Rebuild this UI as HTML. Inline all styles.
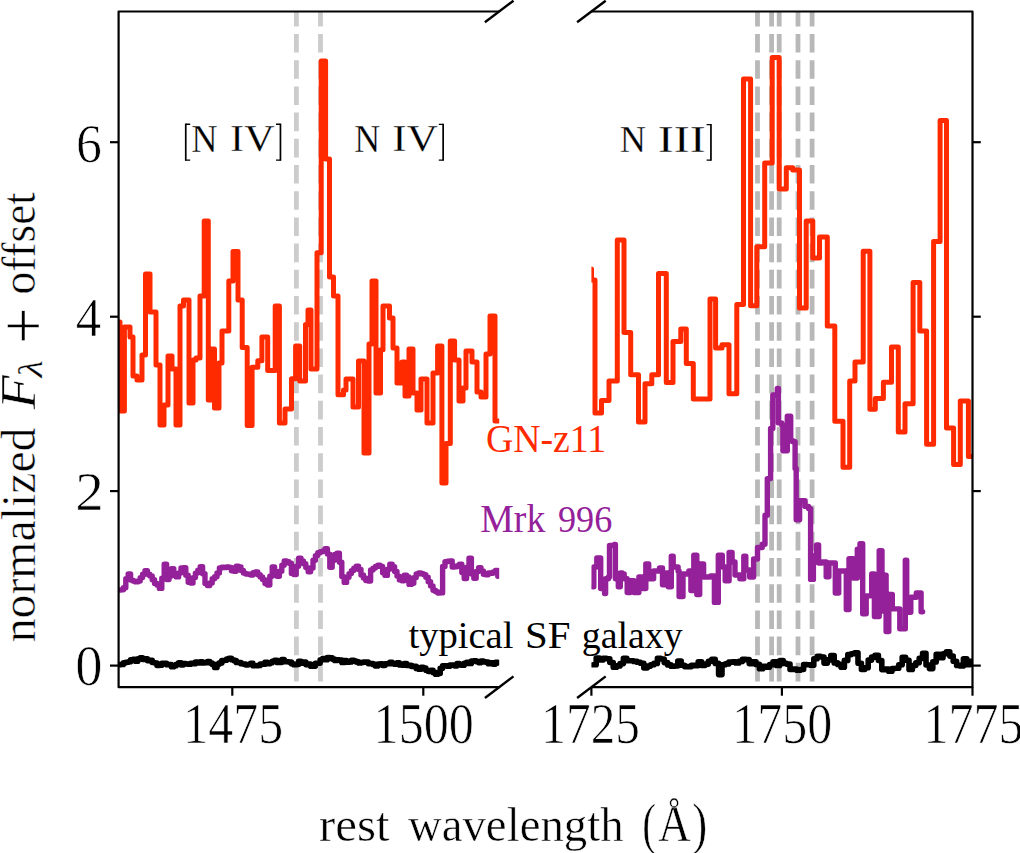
<!DOCTYPE html>
<html><head><meta charset="utf-8"><style>
html,body{margin:0;padding:0;background:#fff;width:1020px;height:853px;overflow:hidden;}
svg{display:block;font-family:"Liberation Serif", serif;}
</style></head><body>
<svg width="1020" height="853" viewBox="0 0 1020 853">
<rect width="1020" height="853" fill="#fff"/>
<defs><clipPath id="cl"><rect x="118.6" y="11.5" width="380.6" height="675.7"/></clipPath><clipPath id="cr"><rect x="591.4" y="11.5" width="381.1" height="675.7"/></clipPath></defs>
<g font-family="'Liberation Serif', serif">
<line x1="296.4" y1="11.5" x2="296.4" y2="687.2" stroke="#cccccc" stroke-width="4.8" stroke-dasharray="18.6 7.6" stroke-dashoffset="3.7"/>
<line x1="320.5" y1="11.5" x2="320.5" y2="687.2" stroke="#cccccc" stroke-width="4.8" stroke-dasharray="18.6 7.6" stroke-dashoffset="3.7"/>
<line x1="757.5" y1="11.5" x2="757.5" y2="687.2" stroke="#b8b8b8" stroke-width="4.8" stroke-dasharray="18.6 7.6" stroke-dashoffset="3.7"/>
<line x1="771.6" y1="11.5" x2="771.6" y2="687.2" stroke="#b8b8b8" stroke-width="4.8" stroke-dasharray="18.6 7.6" stroke-dashoffset="3.7"/>
<line x1="779.2" y1="11.5" x2="779.2" y2="687.2" stroke="#b8b8b8" stroke-width="4.8" stroke-dasharray="18.6 7.6" stroke-dashoffset="3.7"/>
<line x1="798.0" y1="11.5" x2="798.0" y2="687.2" stroke="#b8b8b8" stroke-width="4.8" stroke-dasharray="18.6 7.6" stroke-dashoffset="3.7"/>
<line x1="812.1" y1="11.5" x2="812.1" y2="687.2" stroke="#b8b8b8" stroke-width="4.8" stroke-dasharray="18.6 7.6" stroke-dashoffset="3.7"/>
<path clip-path="url(#cl)" d="M118.6,322.0H120.0V411.0H124.4V327.0H130.0V337.0H133.0V376.0H137.0V380.0H142.0V355.0H145.5V274.0H150.0V312.0H156.0V365.0H160.0V425.0H164.0V405.0H168.0V356.0H172.0V369.0H176.0V425.0H180.0V306.0H183.5V300.0H189.0V403.0H193.0V360.0H196.0V358.0H200.0V296.0H204.2V221.0H208.3V400.0H211.0V349.0H214.5V408.0H219.0V363.0H222.0V331.0H228.8V281.0H233.0V251.5H238.0V300.0H242.2V347.6H247.2V425.6H252.1V367.3H257.8V360.8H261.9V337.0H267.7V370.6H275.2V306.0H279.4V423.0H285.0V409.0H291.5V378.8H295.6V346.0H299.7V381.0H305.5V324.6H308.0V310.0H311.0V369.0H317.0V252.8H321.2V61.0H325.6V159.0H329.5V277.0H333.5V296.0H338.0V394.7H343.5V390.0H346.0V379.0H353.0V407.0H358.5V361.0H364.0V453.0H369.0V344.0H372.0V281.0H376.0V393.0H380.5V349.7H383.0V306.0H389.5V318.0H393.0V348.0H397.0V383.0H402.0V362.0H405.0V396.0H409.0V349.0H413.0V393.0H417.0V410.0H421.0V379.0H427.0V423.0H433.0V373.0H437.6V346.0H441.9V483.0H446.0V443.5H450.3V341.0H454.6V360.0H459.0V401.0H463.0V388.0H466.0V351.0H472.0V362.0H477.0V392.0H481.0V397.0H486.0V354.0H490.0V316.0H495.0V421.0H499.2" fill="none" stroke="#ff2a00" stroke-width="5.0" stroke-linejoin="round" stroke-linecap="round"/>
<path clip-path="url(#cr)" d="M591.5,269V280H595.0V413.0H601.5V400.4H609.0V381.0H617.3V240.0H624.0V332.4H630.7V374.8H638.5V422.0H645.0V383.7H651.8V374.8H658.5V273.4H666.3V382.6H673.0V341.4H680.8V329.0H686.3V363.6H693.3V399.0H710.0V299.0H715.6V348.0H722.0V344.7H729.0V393.7H736.8V304.6H743.5V79.0H750.6V305.7H756.8V246.7H764.7V163.0H772.2V57.6H779.2V188.9H786.3V167.8H792.8V170.0H799.5V308.0H806.2V221.0H812.8V258.0H819.5V236.9H827.3V326.0H834.8V421.3H843.0V467.2H849.7V380.9H855.0V362.0H863.2V251.3H869.9V409.2H875.3V398.4H883.4V382.2H891.5V347.1H898.3V432.1H905.0V403.8H913.1V282.4H919.8V331.0H926.6V444.3H933.6V241.5H940.1V120.6H946.5V428.0H953.6V464.5H960.3V401.0H968.4V456.4H972.5" fill="none" stroke="#ff2a00" stroke-width="5.0" stroke-linejoin="round" stroke-linecap="round"/>
<path clip-path="url(#cl)" d="M118.6,590.1H121.0V589.7H123.4V587.7H125.8V578.8H128.2V574.0H130.6V580.1H133.0V581.1H135.4V581.9H137.8V581.0H140.2V577.6H142.6V574.3H145.0V570.6H147.4V574.3H149.8V575.9H152.2V579.8H154.6V583.4H157.0V585.1H159.4V588.4H161.8V578.3H164.2V564.3H166.6V579.5H169.0V576.1H171.4V568.6H173.8V574.9H176.2V576.9H178.6V573.0H181.0V567.9H183.4V567.8H185.8V575.2H188.2V582.2H190.6V583.0H193.0V577.6H195.4V573.1H197.8V570.3H200.2V566.7H202.6V573.8H205.0V583.6H207.4V585.6H209.8V582.9H212.2V578.7H214.6V576.8H217.0V573.0H219.4V568.0H221.8V567.2H224.2V567.5H226.6V566.9H229.0V567.4H231.4V570.7H233.8V571.3H236.2V566.1H238.6V567.0H241.0V570.4H243.4V573.1H245.8V574.0H248.2V574.2H250.6V575.0H253.0V572.7H255.4V571.9H257.8V574.7H260.2V577.0H262.6V579.6H265.0V583.5H267.4V585.0H269.8V576.2H272.2V566.9H274.6V573.3H277.0V576.2H279.4V571.2H281.8V565.2H284.2V560.9H286.6V561.6H289.0V563.2H291.4V573.4H293.8V574.6H296.2V566.3H298.6V558.1H301.0V560.9H303.4V563.7H305.8V567.6H308.2V571.8H310.6V568.0H313.0V560.3H315.4V555.6H317.8V552.7H320.2V551.7H322.6V551.0H325.0V548.7H327.4V554.1H329.8V567.3H332.2V560.2H334.6V554.4H337.0V553.1H339.4V562.2H341.8V576.6H344.2V582.4H346.6V577.3H349.0V573.6H351.4V570.6H353.8V568.2H356.2V566.3H358.6V569.5H361.0V575.0H363.4V577.9H365.8V580.6H368.2V581.0H370.6V570.0H373.0V568.1H375.4V566.4H377.8V565.2H380.2V566.4H382.6V572.7H385.0V575.4H387.4V569.2H389.8V564.3H392.2V566.7H394.6V571.5H397.0V576.1H399.4V579.9H401.8V580.7H404.2V575.2H406.6V577.0H409.0V584.4H411.4V583.2H413.8V577.6H416.2V573.9H418.6V573.0H421.0V573.7H423.4V574.6H425.8V577.2H428.2V581.7H430.6V585.9H433.0V590.2H435.4V591.6H437.8V593.0H440.2V592.9H442.6V566.4H445.0V561.7H447.4V561.2H449.8V560.9H452.2V567.1H454.6V566.8H457.0V565.8H459.4V564.1H461.8V572.6H464.2V578.5H466.6V567.1H469.0V558.1H471.4V573.9H473.8V578.3H476.2V571.5H478.6V567.6H481.0V570.9H483.4V574.3H485.8V574.7H488.2V572.9H490.6V573.2H493.0V571.9H495.4V570.4H497.8V576.2H498.1" fill="none" stroke="#95219a" stroke-width="5.4" stroke-linejoin="round" stroke-linecap="round"/>
<path clip-path="url(#cr)" d="M592.8,586.7H593.8V567.0H596.8V558.0H599.7V558.0H600.7V588.6H604.6V593.5H605.6V578.8H608.5V577.0H609.5V545.5H614.4V544.5H615.4V578.8H618.3V586.7H620.3V573.0H622.3V574.0H624.2V578.8H627.2V592.5H630.1V580.8H634.0V592.5H638.9V577.0H642.8V588.6H645.8V564.0H648.7V578.8H653.6V571.0H659.5V568.0H662.5V584.7H666.4V573.0H668.3V586.7H671.3V556.3H673.2V567.0H678.1V571.0H679.1V596.5H683.0V574.0H688.9V571.0H690.9V590.6H693.8V555.3H696.8V594.5H699.7V564.0H703.6V577.0H710.5V576.0H714.4V602.4H718.3V555.3H722.3V567.0H725.2V580.8H729.1V552.4H732.1V562.0H735.0V575.0H739.9V578.8H743.8V556.3H745.8V570.0H749.7V577.0H753.6V559.0H757.5V547.5H762.2V544.3H765.0V515.3H767.3V478.6H770.6V428.5H772.8V395.0H777.3V388.4H778.4V422.9H781.7V425.0H782.9V450.7H786.2V450.7H787.3V416.2H789.5V416.2H790.7V440.7H792.9V441.8H795.1V468.5H796.2V519.8H798.5V519.8H799.6V500.8H805.1V506.4H808.5V508.6H810.6V579.4H813.4V556.0H816.6V545.0H818.6V563.0H822.0V562.0H826.2V576.7H828.9V563.0H835.3V593.0H838.7V571.0H842.2V571.0H846.3V609.6H849.0V558.8H853.1V578.0H857.3V549.2H860.0V543.7H862.7V613.7H866.2V595.9H871.7V574.0H874.4V616.5H879.2V550.6H882.0V611.0H884.7V575.3H886.1V631.6H888.8V594.5H892.3V608.9H899.8V628.8H905.3V560.2H906.7V612.3H910.8V597.2H916.3V593.0H921.1V611.7H922.6" fill="none" stroke="#95219a" stroke-width="5.4" stroke-linejoin="round" stroke-linecap="round"/>
<path clip-path="url(#cl)" d="M118.6,664.6H121.0V664.4H123.4V662.7H125.8V662.3H128.2V661.7H130.6V659.7H133.0V659.2H135.4V661.3H137.8V658.8H140.2V657.9H142.6V659.5H145.0V658.7H147.4V660.6H149.8V660.3H152.2V662.5H154.6V663.0H157.0V665.5H159.4V665.3H161.8V663.4H164.2V663.4H166.6V664.7H169.0V664.5H171.4V666.8H173.8V665.7H176.2V664.3H178.6V662.9H181.0V665.0H183.4V663.5H185.8V664.0H188.2V664.2H190.6V663.4H193.0V663.8H195.4V662.0H197.8V663.0H200.2V661.8H202.6V663.0H205.0V662.7H207.4V661.5H209.8V663.0H212.2V664.5H214.6V667.4H217.0V664.1H219.4V662.9H221.8V660.6H224.2V660.3H226.6V659.0H229.0V658.2H231.4V659.7H233.8V660.6H236.2V662.4H238.6V662.6H241.0V663.8H243.4V664.1H245.8V665.0H248.2V664.5H250.6V663.4H253.0V665.8H255.4V665.8H257.8V665.4H260.2V664.1H262.6V664.2H265.0V662.4H267.4V663.8H269.8V662.7H272.2V661.4H274.6V660.4H277.0V662.4H279.4V662.5H281.8V659.5H284.2V661.7H286.6V661.7H289.0V662.1H291.4V663.7H293.8V664.7H296.2V664.5H298.6V661.4H301.0V663.1H303.4V662.0H305.8V664.6H308.2V664.0H310.6V666.2H313.0V666.1H315.4V663.2H317.8V663.1H320.2V659.8H322.6V658.6H325.0V659.7H327.4V657.5H329.8V657.7H332.2V659.1H334.6V660.4H337.0V659.8H339.4V660.1H341.8V662.4H344.2V660.5H346.6V662.2H349.0V661.9H351.4V660.2H353.8V661.1H356.2V661.9H358.6V662.9H361.0V662.5H363.4V662.1H365.8V662.0H368.2V663.6H370.6V663.5H373.0V664.4H375.4V665.9H377.8V664.1H380.2V663.8H382.6V665.5H385.0V663.7H387.4V663.6H389.8V662.2H392.2V663.6H394.6V664.3H397.0V662.9H399.4V664.9H401.8V665.1H404.2V663.6H406.6V665.5H409.0V665.2H411.4V666.5H413.8V666.4H416.2V668.4H418.6V669.2H421.0V667.4H423.4V668.0H425.8V670.2H428.2V671.5H430.6V670.3H433.0V672.4H435.4V674.3H437.8V673.5H440.2V668.2H442.6V665.7H445.0V665.7H447.4V666.2H449.8V665.1H452.2V665.1H454.6V666.0H457.0V663.6H459.4V664.9H461.8V665.2H464.2V663.4H466.6V662.4H469.0V663.4H471.4V661.0H473.8V660.7H476.2V661.6H478.6V662.6H481.0V661.0H483.4V661.9H485.8V662.1H488.2V663.8H490.6V662.7H493.0V664.1H495.4V662.2H497.8V662.9H498.0" fill="none" stroke="#000" stroke-width="5.6" stroke-linejoin="round" stroke-linecap="round"/>
<path clip-path="url(#cr)" d="M592.8,664.8H596.2V658.1H599.6V659.9H603.0V658.4H606.4V658.8H609.8V662.5H613.2V667.3H616.6V665.9H620.0V663.6H623.4V658.3H626.8V660.8H630.2V660.7H633.6V661.4H637.0V662.2H640.4V663.3H643.8V668.0H647.2V666.1H650.6V664.7H654.0V663.4H657.4V658.4H660.8V659.0H664.2V662.6H667.6V664.9H671.0V666.3H674.4V666.0H677.8V661.1H681.2V665.2H684.6V666.6H688.0V666.6H691.4V665.3H694.8V665.6H698.2V661.9H701.6V665.5H705.0V664.1H708.4V661.3H711.8V659.4H715.2V663.4H718.6V674.6H722.0V664.8H725.4V663.9H728.8V662.1H732.2V661.8H735.6V662.9H739.0V661.4H742.4V659.2H745.8V659.6H749.2V663.6H752.6V661.7H756.0V664.4H759.4V668.8H762.8V666.4H766.2V667.1H769.6V664.6H773.0V661.7H776.4V665.4H779.8V660.6H783.2V663.4H786.6V664.1H790.0V669.5H793.4V669.1H796.8V670.2H800.2V669.5H803.6V664.5H807.0V664.8H810.4V665.3H813.8V658.7H817.2V656.2H820.6V657.0H824.0V663.1H827.4V659.9H830.8V655.5H834.2V662.9H837.6V664.4H841.0V667.3H844.4V660.4H847.8V654.6H851.2V653.8H854.6V652.7H858.0V663.3H861.4V669.5H864.8V667.7H868.2V660.1H871.6V657.1H875.0V655.3H878.4V660.5H881.8V669.6H885.2V669.0H888.6V671.2H892.0V668.5H895.4V668.3H898.8V664.8H902.2V657.4H905.6V660.3H909.0V669.4H912.4V665.5H915.8V662.7H919.2V658.4H922.6V653.4H926.0V665.0H929.4V668.6H932.8V661.9H936.2V654.4H939.6V657.8H943.0V653.8H946.4V651.8H949.8V656.1H953.2V661.3H956.6V665.4H960.0V665.9H963.4V658.8H966.8V664.6H970.2V661.3H972.5" fill="none" stroke="#000" stroke-width="5.6" stroke-linejoin="round" stroke-linecap="round"/>
<path d="M499.2,11.5H118.6V687.2H499.2" stroke="#000" stroke-width="2.2" fill="none" stroke-linejoin="round"/>
<path d="M591.4,11.5H972.5V687.2H591.4" stroke="#000" stroke-width="2.2" fill="none" stroke-linejoin="round"/>
<line x1="484.9" y1="22.3" x2="513.5" y2="0.7" stroke="#000" stroke-width="2.4"/>
<line x1="484.9" y1="698.0" x2="513.5" y2="676.4" stroke="#000" stroke-width="2.4"/>
<line x1="577.1" y1="22.3" x2="605.7" y2="0.7" stroke="#000" stroke-width="2.4"/>
<line x1="577.1" y1="698.0" x2="605.7" y2="676.4" stroke="#000" stroke-width="2.4"/>
<line x1="110" y1="665.6" x2="118.6" y2="665.6" stroke="#000" stroke-width="2.2"/>
<line x1="972.5" y1="665.6" x2="980.8" y2="665.6" stroke="#000" stroke-width="2.2"/>
<line x1="110" y1="491.1" x2="118.6" y2="491.1" stroke="#000" stroke-width="2.2"/>
<line x1="972.5" y1="491.1" x2="980.8" y2="491.1" stroke="#000" stroke-width="2.2"/>
<line x1="110" y1="316.7" x2="118.6" y2="316.7" stroke="#000" stroke-width="2.2"/>
<line x1="972.5" y1="316.7" x2="980.8" y2="316.7" stroke="#000" stroke-width="2.2"/>
<line x1="110" y1="142.2" x2="118.6" y2="142.2" stroke="#000" stroke-width="2.2"/>
<line x1="972.5" y1="142.2" x2="980.8" y2="142.2" stroke="#000" stroke-width="2.2"/>
<line x1="232.3" y1="687.2" x2="232.3" y2="695.7" stroke="#000" stroke-width="2.2"/>
<line x1="423.3" y1="687.2" x2="423.3" y2="695.7" stroke="#000" stroke-width="2.2"/>
<line x1="591.4" y1="687.2" x2="591.4" y2="695.7" stroke="#000" stroke-width="2.2"/>
<line x1="781.9" y1="687.2" x2="781.9" y2="695.7" stroke="#000" stroke-width="2.2"/>
<line x1="972.5" y1="687.2" x2="972.5" y2="695.7" stroke="#000" stroke-width="2.2"/>
<text transform="translate(75.32,685.1) scale(1.0905,1.1424)" font-size="50" fill="#000" stroke="#fff" stroke-width="0.627" stroke-linejoin="round">0</text>
<text transform="translate(75.21,509.9) scale(1.145,1.103)" font-size="50" fill="#000" stroke="#fff" stroke-width="0.623" stroke-linejoin="round">2</text>
<text transform="translate(75.78,335.5) scale(1.0174,1.1061)" font-size="50" fill="#000" stroke="#fff" stroke-width="0.659" stroke-linejoin="round">4</text>
<text transform="translate(75.92,162.1) scale(1.0381,1.1182)" font-size="50" fill="#000" stroke="#fff" stroke-width="0.649" stroke-linejoin="round">6</text>
<text transform="translate(183.2,743.4) scale(1.0,1.1242)" font-size="50" fill="#000" stroke="#fff" stroke-width="0.659" stroke-linejoin="round">1475</text>
<text transform="translate(373.59,743.4) scale(1.0021,1.1242)" font-size="50" fill="#000" stroke="#fff" stroke-width="0.658" stroke-linejoin="round">1500</text>
<text transform="translate(541.36,743.4) scale(0.9862,1.1242)" font-size="50" fill="#000" stroke="#fff" stroke-width="0.663" stroke-linejoin="round">1725</text>
<text transform="translate(732.2,743.4) scale(1.0011,1.1242)" font-size="50" fill="#000" stroke="#fff" stroke-width="0.659" stroke-linejoin="round">1750</text>
<text transform="translate(923.4,743.4) scale(1.0011,1.1242)" font-size="50" fill="#000" stroke="#fff" stroke-width="0.659" stroke-linejoin="round">1775</text>
<text transform="translate(191.17,151.7) scale(0.7294,0.7848)" font-size="50" fill="#000" stroke="#fff" stroke-width="0.396" stroke-linejoin="round">N</text>
<text transform="translate(230.12,150.94) scale(0.842,0.7618)" font-size="50" fill="#000" stroke="#fff" stroke-width="0.374" stroke-linejoin="round">IV</text>
<text transform="translate(354.18,151.8) scale(0.7206,0.7879)" font-size="50" fill="#000" stroke="#fff" stroke-width="0.398" stroke-linejoin="round">N</text>
<text transform="translate(392.37,151.04) scale(0.864,0.7647)" font-size="50" fill="#000" stroke="#fff" stroke-width="0.368" stroke-linejoin="round">IV</text>
<text transform="translate(619.87,151.7) scale(0.7265,0.7788)" font-size="50" fill="#000" stroke="#fff" stroke-width="0.399" stroke-linejoin="round">N</text>
<text transform="translate(657.78,151.8) scale(0.9587,0.7758)" font-size="50" fill="#000" stroke="#fff" stroke-width="0.346" stroke-linejoin="round">III</text>
<text transform="translate(485.89,452.4) scale(0.7552,0.79)" font-size="50" fill="#ff2a00">GN-z11</text>
<text transform="translate(480.35,532.3) scale(0.7541,0.78)" font-size="50" fill="#95219a">Mrk</text>
<text transform="translate(557.95,532.3) scale(0.7239,0.78)" font-size="50" fill="#95219a">996</text>
<text transform="translate(408.4,648.0) scale(0.7726,0.77)" font-size="50" fill="#000">typical</text>
<text transform="translate(525.05,648.0) scale(0.8176,0.77)" font-size="50" fill="#000">SF</text>
<text transform="translate(581.79,648.0) scale(0.7573,0.77)" font-size="50" fill="#000">galaxy</text>
<text transform="translate(318.92,840.5) scale(0.9775,0.985)" font-size="50" fill="#000" stroke="#fff" stroke-width="0.510" stroke-linejoin="round">rest</text>
<text transform="translate(407.9,840.5) scale(0.9361,0.985)" font-size="50" fill="#000" stroke="#fff" stroke-width="0.521" stroke-linejoin="round">wavelength</text>
<text transform="translate(642.34,843.08) scale(0.8308,1.1422)" font-size="50" fill="#000" stroke="#fff" stroke-width="0.507" stroke-linejoin="round">(</text>
<text transform="translate(658.2,840.9) scale(0.9,1.05)" font-size="50" fill="#000" stroke="#fff" stroke-width="0.513" stroke-linejoin="round">Å</text>
<text transform="translate(692.2,843.08) scale(0.9,1.1422)" font-size="50" fill="#000" stroke="#fff" stroke-width="0.490" stroke-linejoin="round">)</text>
<path d="M185.75,123.60V160.80" stroke="#000" stroke-width="1.7" fill="none"/><path d="M185.75,124.25H190.20M185.75,160.15H190.20" stroke="#000" stroke-width="1.3" fill="none"/>
<path d="M280.45,123.60V160.80" stroke="#000" stroke-width="1.7" fill="none"/><path d="M280.45,124.25H276.00M280.45,160.15H276.00" stroke="#000" stroke-width="1.3" fill="none"/>
<path d="M443.15,123.80V160.70" stroke="#000" stroke-width="1.7" fill="none"/><path d="M443.15,124.45H438.80M443.15,160.05H438.80" stroke="#000" stroke-width="1.3" fill="none"/>
<path d="M710.95,123.90V160.80" stroke="#000" stroke-width="1.7" fill="none"/><path d="M710.95,124.55H706.60M710.95,160.15H706.60" stroke="#000" stroke-width="1.3" fill="none"/>
<g transform="translate(0,853) rotate(-90)"><text transform="translate(210.75,35.0) scale(0.9547,0.96)" font-size="50" fill="#000" stroke="#fff" stroke-width="0.522" stroke-linejoin="round">normalized</text><text transform="translate(443.8,34.5) scale(1.1161,1.0242)" font-size="50" fill="#000" font-style="italic" stroke="#fff" stroke-width="0.467" stroke-linejoin="round">F</text><text transform="translate(475.6,42.3) scale(0.8048,0.6667)" font-size="50" fill="#000" font-style="italic" stroke="#fff" stroke-width="0.408" stroke-linejoin="round">λ</text><text transform="translate(508.93,46.09) scale(1.2875,1.3478)" font-size="50" fill="#000" stroke="#fff" stroke-width="0.379" stroke-linejoin="round">+</text><text transform="translate(558.49,35.0) scale(0.9072,0.96)" font-size="50" fill="#000" stroke="#fff" stroke-width="0.536" stroke-linejoin="round">offset</text></g>
</g>
</svg>
</body></html>
